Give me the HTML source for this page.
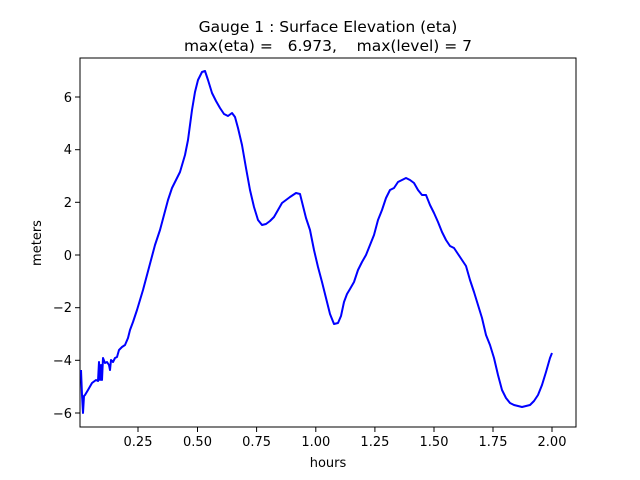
<!DOCTYPE html>
<html><head><style>body{margin:0;background:#fff}svg{display:block}text{font-family:"DejaVu Sans","Liberation Sans",sans-serif}</style></head>
<body>
<svg width="640" height="480" xmlns="http://www.w3.org/2000/svg">
<rect x="80" y="58" width="496" height="369" fill="#fff" stroke="#000" stroke-width="1"/>
<polyline fill="none" stroke="#0000ff" stroke-width="2" stroke-linejoin="round" points="81,370 82,395 83,413 84,396 85,395 88,390 92,383 96,380 98,381 99,362 100,380 101,365 102,380 103,358 105,363 107,362 109,365 110,370 111,360 113,362 115,358 117,357 119,350 122,347 125,345 128,338 130,330 133,322 137,310 140,300 143,290 147,275 151,260 155,245 160,230 164,215 168,200 172,188 176,180 180,172 185,155 188,140 192,110 195,92 198,80 202,72 205,71 208,80 212,93 216,101 220,108 224,114 228,116 232,113 235,117 238,128 242,145 246,168 250,190 254,207 258,220 262,225 266,224 270,221 274,217 278,210 282,203 286,200 290,197 296,193 300,194 302,202 306,218 310,230 314,250 318,267 322,282 326,298 330,314 334,324 338,323 341,316 344,302 347,294 350,289 354,282 358,270 362,262 366,255 370,245 374,235 378,220 382,210 386,198 390,190 394,188 398,182 402,180 406,178 410,180 414,183 418,190 422,195 426,195 430,205 434,213 438,222 442,232 446,240 450,246 454,248 458,254 462,260 466,266 470,280 474,292 478,305 482,318 486,335 490,345 494,358 498,375 502,390 506,398 510,403 514,405 518,406 522,407 526,406 530,405 534,401 538,395 542,385 546,372 550,358 552,353"/>
<g stroke="#000" stroke-width="1">
<line x1="138" y1="427" x2="138" y2="432"/><line x1="197.5" y1="427" x2="197.5" y2="432"/><line x1="256.6" y1="427" x2="256.6" y2="432"/><line x1="315.8" y1="427" x2="315.8" y2="432"/><line x1="374.9" y1="427" x2="374.9" y2="432"/><line x1="434" y1="427" x2="434" y2="432"/><line x1="493" y1="427" x2="493" y2="432"/><line x1="552" y1="427" x2="552" y2="432"/>
<line x1="75" y1="413" x2="80" y2="413"/><line x1="75" y1="360.3" x2="80" y2="360.3"/><line x1="75" y1="307.7" x2="80" y2="307.7"/><line x1="75" y1="255" x2="80" y2="255"/><line x1="75" y1="202.3" x2="80" y2="202.3"/><line x1="75" y1="149.7" x2="80" y2="149.7"/><line x1="75" y1="97" x2="80" y2="97"/>
</g>
<g font-size="13" text-anchor="middle">
<text x="138" y="446">0.25</text><text x="197.5" y="446">0.50</text><text x="256.6" y="446">0.75</text><text x="315.8" y="446">1.00</text><text x="374.9" y="446">1.25</text><text x="434" y="446">1.50</text><text x="493" y="446">1.75</text><text x="552" y="446">2.00</text>
<text x="328" y="467">hours</text>
</g>
<g font-size="13" text-anchor="end">
<text x="72" y="418">−6</text><text x="72" y="365">−4</text><text x="72" y="312">−2</text><text x="72" y="260">0</text><text x="72" y="207">2</text><text x="72" y="154">4</text><text x="72" y="102">6</text>
</g>
<text transform="translate(41,243) rotate(-90)" font-size="13" text-anchor="middle">meters</text>
<g font-size="15.5" text-anchor="middle">
<text x="328" y="32">Gauge 1 : Surface Elevation (eta)</text>
<text x="328" y="51" xml:space="preserve">max(eta) =   6.973,    max(level) = 7</text>
</g>
</svg>
</body></html>
